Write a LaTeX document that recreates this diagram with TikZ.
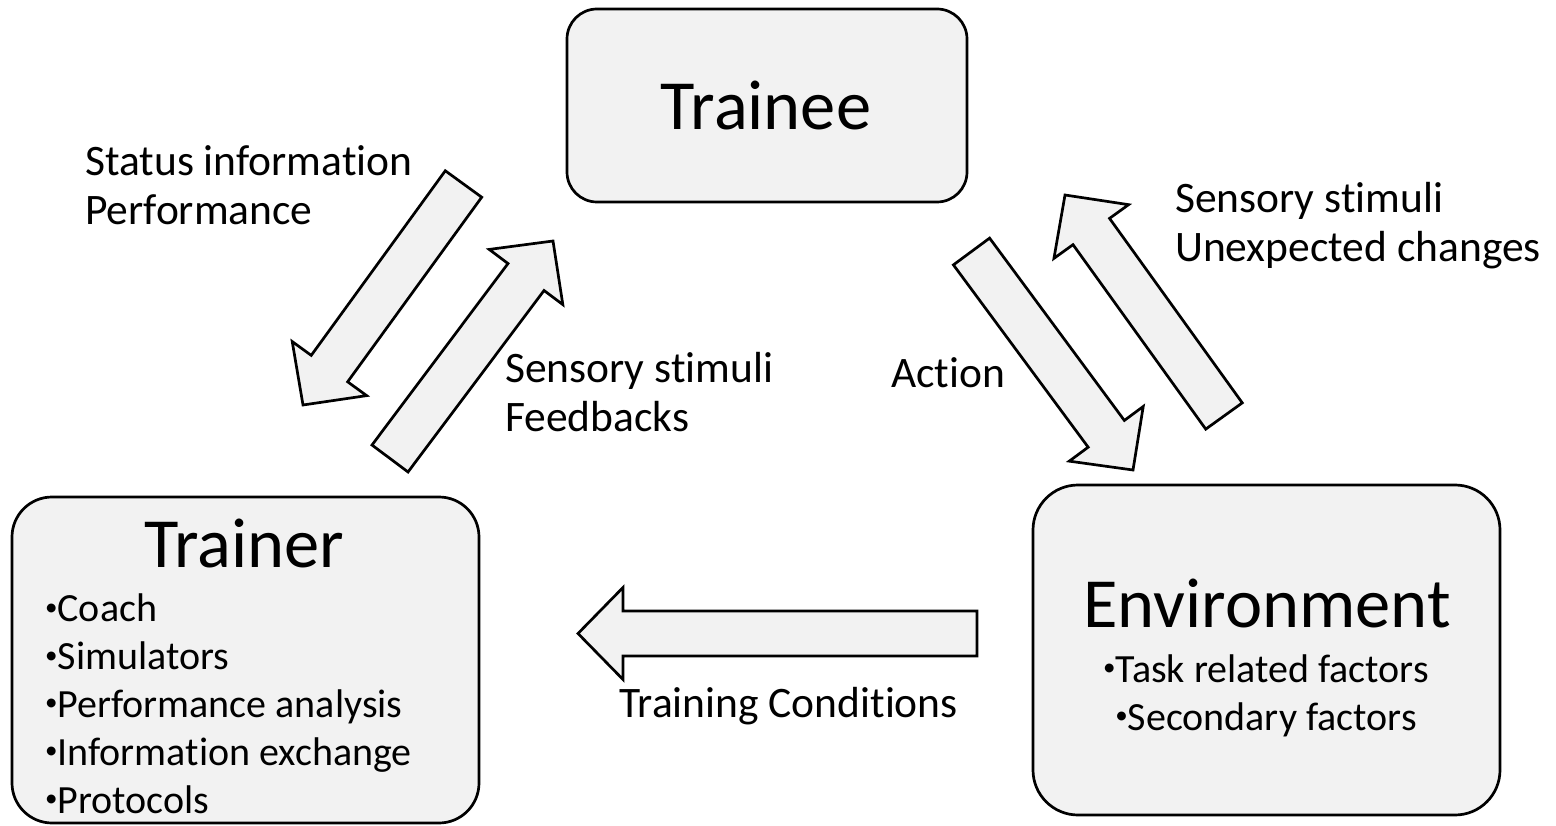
\documentclass[tikz,border=0pt]{standalone}
\usepackage{fontspec}
\setmainfont{Carlito}[Ligatures=NoCommon]
\usetikzlibrary{calc}

\definecolor{boxfill}{HTML}{F2F2F2}

\tikzset{
  roundbox/.style={draw=black, line width=2.7pt, fill=boxfill, inner sep=0pt},
  blockarrow/.style={draw=black, line width=2.7pt, fill=boxfill, line join=miter},
  title/.style={inner sep=0pt, anchor=base, font=\fontsize{70.5}{80}\selectfont},
  label/.style={inner sep=0pt, anchor=base west, align=left, font=\fontsize{43.5}{49}\selectfont},
  bullets/.style={inner sep=0pt, font=\fontsize{40}{47.8}\selectfont}
}

% small list bullet
\newcommand{\dotitem}{\raisebox{6.5pt}{\fontsize{25}{25}\selectfont •}}

% wide arrow from #1 (tail centre) to #2 (tip); #3 names the neck point
\newcommand{\wideflow}[3]{%
  \coordinate (#3) at ($(#2)!45pt!(#1)$);
  \draw[blockarrow]
    ($(#1)!22.5pt!90:(#2)$) -- ($(#3)!22.5pt!90:(#2)$) -- ($(#3)!46pt!90:(#2)$)
    -- (#2)
    -- ($(#3)!46pt!-90:(#2)$) -- ($(#3)!22.5pt!-90:(#2)$) -- ($(#1)!22.5pt!-90:(#2)$)
    -- cycle;
}

\begin{document}
\begin{tikzpicture}[x=1pt, y=-1pt]
\useasboundingbox (0,0) rectangle (1556,826);

% the three actors
\node[roundbox, rounded corners=30pt, minimum width=400pt, minimum height=193pt]
  (trainee) at (767,105.5) {};
\node[roundbox, rounded corners=40pt, minimum width=467pt, minimum height=326pt]
  (trainer) at (245.5,660) {};
\node[roundbox, rounded corners=45pt, minimum width=467pt, minimum height=330pt]
  (environment) at (1266.5,650) {};

\node[title] (traineeT) at (766,130) {Trainee};
\node[title] (trainerT) at (244,567) {Trainer};
\node[title] (environmentT) at (1267,627) {Environment};

% multi-line nodes are placed by the baseline of their last line
\node[bullets, anchor=base west, align=left] (trainerL) at (45,813)
  {\dotitem Coach\\\dotitem Simulators\\\dotitem Performance analysis\\\dotitem Information exchange\\\dotitem Protocols};
\node[bullets, anchor=base, align=center] (environmentL) at (1266,730)
  {\dotitem Task related factors\\\dotitem Secondary factors};

% flow arrows
\coordinate (a1) at (463.5,184);   \coordinate (a2) at (303,405);
\coordinate (b1) at (390,458.5);   \coordinate (b2) at (553,241);
\coordinate (c1) at (971.5,251.5); \coordinate (c2) at (1133,470);
\coordinate (d1) at (1224,416);    \coordinate (d2) at (1065,195);
\coordinate (e1) at (977,633.5);   \coordinate (e2) at (578,633.5);

\wideflow{a1}{a2}{an}
\wideflow{b1}{b2}{bn}
\wideflow{c1}{c2}{cn}
\wideflow{d1}{d2}{dn}
\wideflow{e1}{e2}{en}

% arrow captions
\node[label] (lstatus) at (85,225) {Status information\\Performance};
\node[label] (lfeed) at (505,431) {Sensory stimuli\\Feedbacks};
\node[label] (laction) at (891,387) {Action};
\node[label] (lunexp) at (1175,262) {Sensory stimuli\\Unexpected changes};
\node[label] (lcond) at (619,717) {Training Conditions};
\end{tikzpicture}
\end{document}
